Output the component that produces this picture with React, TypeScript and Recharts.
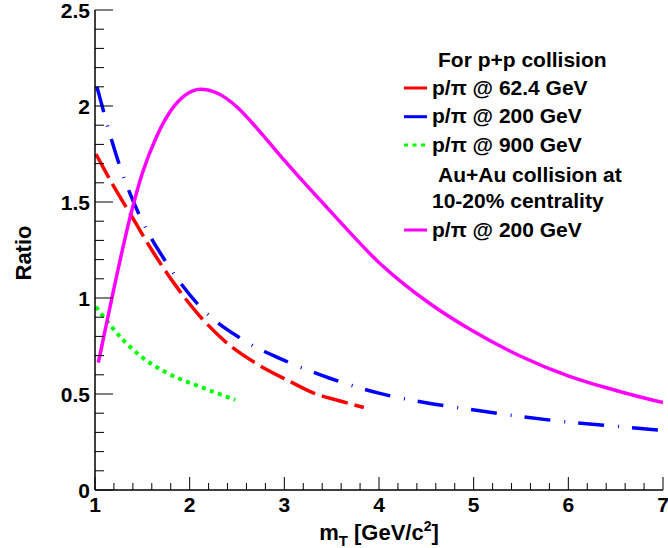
import { LineChart, Line, XAxis, YAxis, Label } from "recharts";

// p+p, p/pi @ 62.4 GeV
const x624 = [1.01, 1.2, 1.37, 1.6, 1.83, 2.1, 2.36, 2.7, 3.06, 3.31, 3.6, 3.84];
const y624 = [1.75, 1.58, 1.44, 1.25, 1.08, 0.91, 0.78, 0.66, 0.565, 0.505, 0.462, 0.43];

// p+p, p/pi @ 200 GeV
const x200 = [1.02, 1.26, 1.48, 1.76, 2.11, 2.57, 2.95, 3.48, 4.01, 4.54, 4.96, 5.38, 5.96, 6.55, 7.0];
const y200 = [2.1, 1.69, 1.42, 1.18, 0.955, 0.78, 0.686, 0.582, 0.503, 0.451, 0.42, 0.39, 0.356, 0.33, 0.31];

// p+p, p/pi @ 900 GeV
const x900 = [1.01, 1.15, 1.3, 1.5, 1.76, 2.11, 2.48];
const y900 = [0.955, 0.865, 0.78, 0.69, 0.61, 0.538, 0.47];

// Au+Au 10-20%, p/pi @ 200 GeV
const xAuAu = [1.035, 1.2, 1.37, 1.5, 1.65, 1.8, 1.95, 2.11, 2.3, 2.5, 2.7, 2.95, 3.48, 4.01, 4.54, 4.96, 5.49, 6.02, 6.55, 7.0];
const yAuAu = [0.663, 1.05, 1.42, 1.65, 1.84, 1.975, 2.055, 2.087, 2.065, 1.995, 1.89, 1.745, 1.455, 1.18, 0.97, 0.837, 0.698, 0.59, 0.512, 0.455];

const xMajor = [1, 2, 3, 4, 5, 6, 7];
const yMajor = [0, 0.5, 1, 1.5, 2, 2.5];

const toPoints = (xs: number[], ys: number[]) => xs.map((x, i) => ({ x, y: ys[i] }));

// minor ticks: every 0.2 on x, 0.1 on y
const xTicks = Array.from({ length: 31 }, (_, i) => Math.round((1 + i * 0.2) * 100) / 100);
const yTicks = Array.from({ length: 26 }, (_, i) => Math.round(i * 0.1 * 100) / 100);

const isMajor = (v: number, majors: number[]) => majors.some((m) => Math.abs(m - v) < 1e-6);

const FONT = "'Liberation Sans', Arial, Helvetica, sans-serif";

const series = [
  { name: "p/π @ 62.4 GeV", color: "#ff0000", dash: "27 7", width: 3.5, data: toPoints(x624, y624) },
  { name: "p/π @ 200 GeV", color: "#0000ff", dash: "26 14 1 13", width: 3.5, data: toPoints(x200, y200) },
  { name: "p/π @ 900 GeV", color: "#00ff00", dash: "4 4.5", width: 4, data: toPoints(x900, y900) },
  { name: "p/π @ 200 GeV", color: "#ff00ff", dash: undefined, width: 3.5, data: toPoints(xAuAu, yAuAu) },
];

const labelStyle = { fontFamily: FONT, fontWeight: 700, fontSize: 21, fill: "#000" };

function BottomTick(props: any) {
  const { x, y, payload } = props;
  const major = isMajor(payload.value, xMajor);
  return (
    <g>
      <line x1={x} x2={x} y1={y} y2={y - (major ? 13 : 7)} stroke="#000" strokeWidth={1} />
      {major && (
        <text x={x} y={y + 22} textAnchor="middle" style={labelStyle}>
          {payload.value}
        </text>
      )}
    </g>
  );
}

function TopTick(props: any) {
  const { x, y, payload } = props;
  const major = isMajor(payload.value, xMajor);
  return <line x1={x} x2={x} y1={y} y2={y + (major ? 13 : 7)} stroke="#000" strokeWidth={1} />;
}

function LeftTick(props: any) {
  const { x, y, payload } = props;
  const major = isMajor(payload.value, yMajor);
  return (
    <g>
      <line x1={x} x2={x + (major ? 18 : 9)} y1={y} y2={y} stroke="#000" strokeWidth={1} />
      {major && (
        <text x={x - 5} y={y + 7.5} textAnchor="end" style={labelStyle}>
          {String(payload.value)}
        </text>
      )}
    </g>
  );
}

function RightTick(props: any) {
  const { x, y, payload } = props;
  const major = isMajor(payload.value, yMajor);
  return <line x1={x} x2={x - (major ? 18 : 9)} y1={y} y2={y} stroke="#000" strokeWidth={1} />;
}

function XTitle(props: any) {
  const vb = props.viewBox;
  return (
    <text x={vb.x + vb.width / 2} y={vb.y + 50} textAnchor="middle" style={{ ...labelStyle, fontSize: 22 }}>
      m
      <tspan dy={6} fontSize={15}>T</tspan>
      <tspan dy={-6}> [GeV/c</tspan>
      <tspan dy={-9} fontSize={14}>2</tspan>
      <tspan dy={9}>]</tspan>
    </text>
  );
}

function YTitle(props: any) {
  const vb = props.viewBox;
  const cy = vb.y + vb.height / 2 + 3;
  return (
    <text
      x={31}
      y={cy}
      transform={`rotate(-90, 31, ${cy})`}
      textAnchor="middle"
      style={{ ...labelStyle, fontSize: 22 }}
    >
      Ratio
    </text>
  );
}

function LegendBox() {
  const txt = { ...labelStyle, fontSize: 21 };
  const rows = [
    { s: series[0], ly: 48, ty: 55 },
    { s: series[1], ly: 76.7, ty: 83.3 },
    { s: series[2], ly: 105, ty: 111.7 },
    { s: series[3], ly: 190, ty: 196.7 },
  ];
  return (
    <svg width={268} height={210} style={{ position: "absolute", left: 400, top: 40 }}>
      <text x={38} y={27} style={txt}>For p+p collision</text>
      {rows.map((r, i) => (
        <g key={i}>
          <line x1={4} x2={27} y1={r.ly} y2={r.ly} stroke={r.s.color} strokeWidth={3} strokeDasharray={r.s.dash} />
          <text x={32} y={r.ty} style={txt}>{r.s.name}</text>
        </g>
      ))}
      <text x={38} y={141.7} style={txt}>Au+Au collision at</text>
      <text x={32} y={168.3} style={txt}>10-20% centrality</text>
    </svg>
  );
}

export default function App() {
  return (
    <div style={{ position: "absolute", left: 0, top: 0, width: 668, height: 548, background: "#fff" }}>
      <LineChart width={668} height={548} margin={{ top: 10, right: 5, bottom: 0, left: 0 }}>
        <XAxis
          xAxisId={0}
          dataKey="x"
          type="number"
          domain={[1, 7]}
          ticks={xTicks}
          interval={0}
          height={58}
          tickSize={0}
          tickMargin={0}
          tickLine={false}
          tick={<BottomTick />}
          axisLine={{ stroke: "#000", strokeWidth: 1.5 }}
          allowDataOverflow
        >
          <Label content={<XTitle />} />
        </XAxis>
        <XAxis
          xAxisId="top"
          orientation="top"
          dataKey="x"
          type="number"
          domain={[1, 7]}
          ticks={xTicks}
          interval={0}
          height={0}
          tickSize={0}
          tickMargin={0}
          tickLine={false}
          tick={<TopTick />}
          axisLine={{ stroke: "#000", strokeWidth: 1.5 }}
          allowDataOverflow
        />
        <YAxis
          yAxisId={0}
          type="number"
          domain={[0, 2.5]}
          ticks={yTicks}
          interval={0}
          width={95}
          tickSize={0}
          tickMargin={0}
          tickLine={false}
          tick={<LeftTick />}
          axisLine={{ stroke: "#000", strokeWidth: 1.5 }}
          allowDataOverflow
        >
          <Label content={<YTitle />} />
        </YAxis>
        <YAxis
          yAxisId="right"
          orientation="right"
          type="number"
          domain={[0, 2.5]}
          ticks={yTicks}
          interval={0}
          width={0}
          tickSize={0}
          tickMargin={0}
          tickLine={false}
          tick={<RightTick />}
          axisLine={{ stroke: "#000", strokeWidth: 1.5 }}
          allowDataOverflow
        />
        {series.map((s, i) => (
          <Line
            key={i}
            data={s.data}
            dataKey="y"
            xAxisId={0}
            yAxisId={0}
            type="monotone"
            stroke={s.color}
            strokeWidth={s.width}
            strokeDasharray={s.dash}
            dot={false}
            activeDot={false}
            isAnimationActive={false}
          />
        ))}
      </LineChart>
      <LegendBox />
    </div>
  );
}
